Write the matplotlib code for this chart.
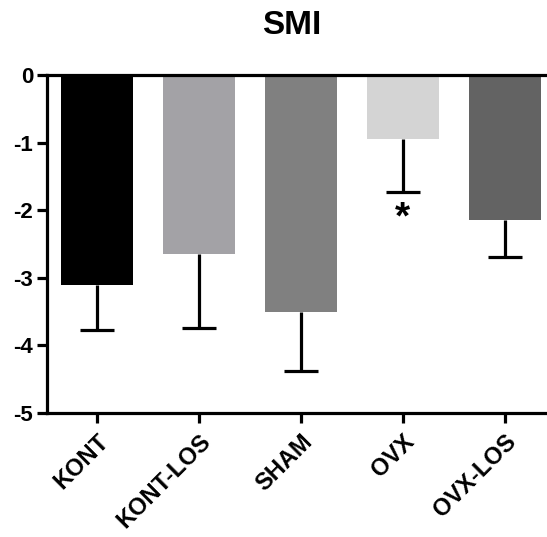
import matplotlib.pyplot as plt
import numpy as np

plt.rcParams['font.family'] = ['Liberation Sans', 'DejaVu Sans']
plt.rcParams['font.weight'] = 'bold'
plt.rcParams['axes.unicode_minus'] = False

groups = ['KONT', 'KONT-LOS', 'SHAM', 'OVX', 'OVX-LOS']
means = [-3.10, -2.65, -3.50, -0.95, -2.15]
sd = [0.67, 1.09, 0.88, 0.78, 0.54]
colors = ['#000000', '#a3a2a6', '#808080', '#d4d4d4', '#636363']
star_groups = ['OVX']
star_y = [-2.12]

fig = plt.figure(figsize=(5.47, 5.37), dpi=100)
ax = fig.add_axes([0.086, 0.231, 0.93, 0.629])

x = np.arange(len(groups))
lower = np.array(means) - np.array(sd)
ax.bar(x, means, width=0.71, color=colors, zorder=2)
lw = 2.3
ax.vlines(x, means, lower, color='black', lw=lw, zorder=3)
ax.plot(x, lower, ls='none', marker='_', markersize=25, mew=lw,
        color='black', zorder=3)

for g, y in zip(star_groups, star_y):
    ax.text(groups.index(g), y, '*', ha='center', va='center', fontsize=28,
            fontweight='bold')

ax.axhline(0, color='black', lw=lw, zorder=4, clip_on=False)
ax.set_xlim(-0.49, 4.5)
ax.set_ylim(-5, 0)
ax.set_yticks([0, -1, -2, -3, -4, -5])
ax.set_xticks(x)
ax.set_xticklabels(groups, rotation=45, ha='right', rotation_mode='anchor')

for s in ['top', 'right']:
    ax.spines[s].set_visible(False)
for s in ['left', 'bottom']:
    ax.spines[s].set_linewidth(lw)
ax.tick_params(width=lw, length=7, pad=3)
ax.tick_params(axis='y', labelsize=16)
ax.tick_params(axis='x', labelsize=17, pad=5)

ax.set_title('SMI', fontsize=24, fontweight='bold', pad=30, x=0.48)

fig.savefig('out.png', dpi=100)
